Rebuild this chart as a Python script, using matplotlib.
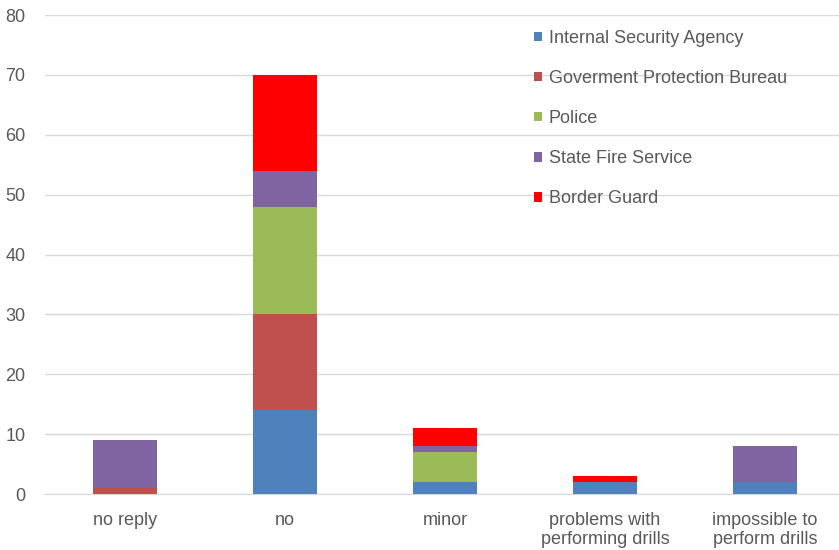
import matplotlib.pyplot as plt
import numpy as np

categories = ['no reply', 'no', 'minor', 'problems with\nperforming drills', 'impossible to\nperform drills']
services = ['Internal Security Agency', 'Goverment Protection Bureau', 'Police',
            'State Fire Service', 'Border Guard']
internal_security = [0, 14, 2, 2, 2]
protection_bureau = [1, 16, 0, 0, 0]
police = [0, 18, 5, 0, 0]
fire_service = [8, 6, 1, 0, 6]
border_guard = [0, 16, 3, 1, 0]
colors = ['#4f81bd', '#c0504d', '#9bbb59', '#8064a2', '#ff0000']

plt.rcParams['font.family'] = ['Liberation Sans', 'DejaVu Sans']

fig = plt.figure(figsize=(8.39, 5.5), dpi=100)
ax = fig.add_axes([45 / 839, 0.1018, 800 / 839, 0.8709])

x = np.arange(len(categories))
bottom = np.zeros(len(categories))
for name, vals, c in zip(services,
                         [internal_security, protection_bureau, police, fire_service, border_guard],
                         colors):
    ax.bar(x, vals, 0.4, bottom=bottom, color=c, label=name, zorder=3)
    bottom += np.array(vals)

ax.set_xlim(-0.5, 4.5)
ax.set_ylim(0, 80)
ax.set_yticks(range(0, 81, 10))
ax.set_xticks(x)
ax.set_xticklabels(categories, linespacing=1.15)
ax.grid(axis='y', color='#d9d9d9', linewidth=1, zorder=0)
for s in ['top', 'right', 'left']:
    ax.spines[s].set_visible(False)
ax.spines['bottom'].set_color('#d9d9d9')
ax.tick_params(axis='both', length=0, colors='#595959', labelsize=13)
ax.tick_params(axis='y', pad=14)
ax.tick_params(axis='x', pad=13)

leg = ax.legend(loc='upper left', bbox_to_anchor=(473 / 800, 1.003), frameon=False,
                fontsize=13, labelspacing=1.28, handlelength=0.45, handleheight=0.45,
                handletextpad=0.35)
for t in leg.get_texts():
    t.set_color('#595959')

fig.savefig('out.png', dpi=100)
